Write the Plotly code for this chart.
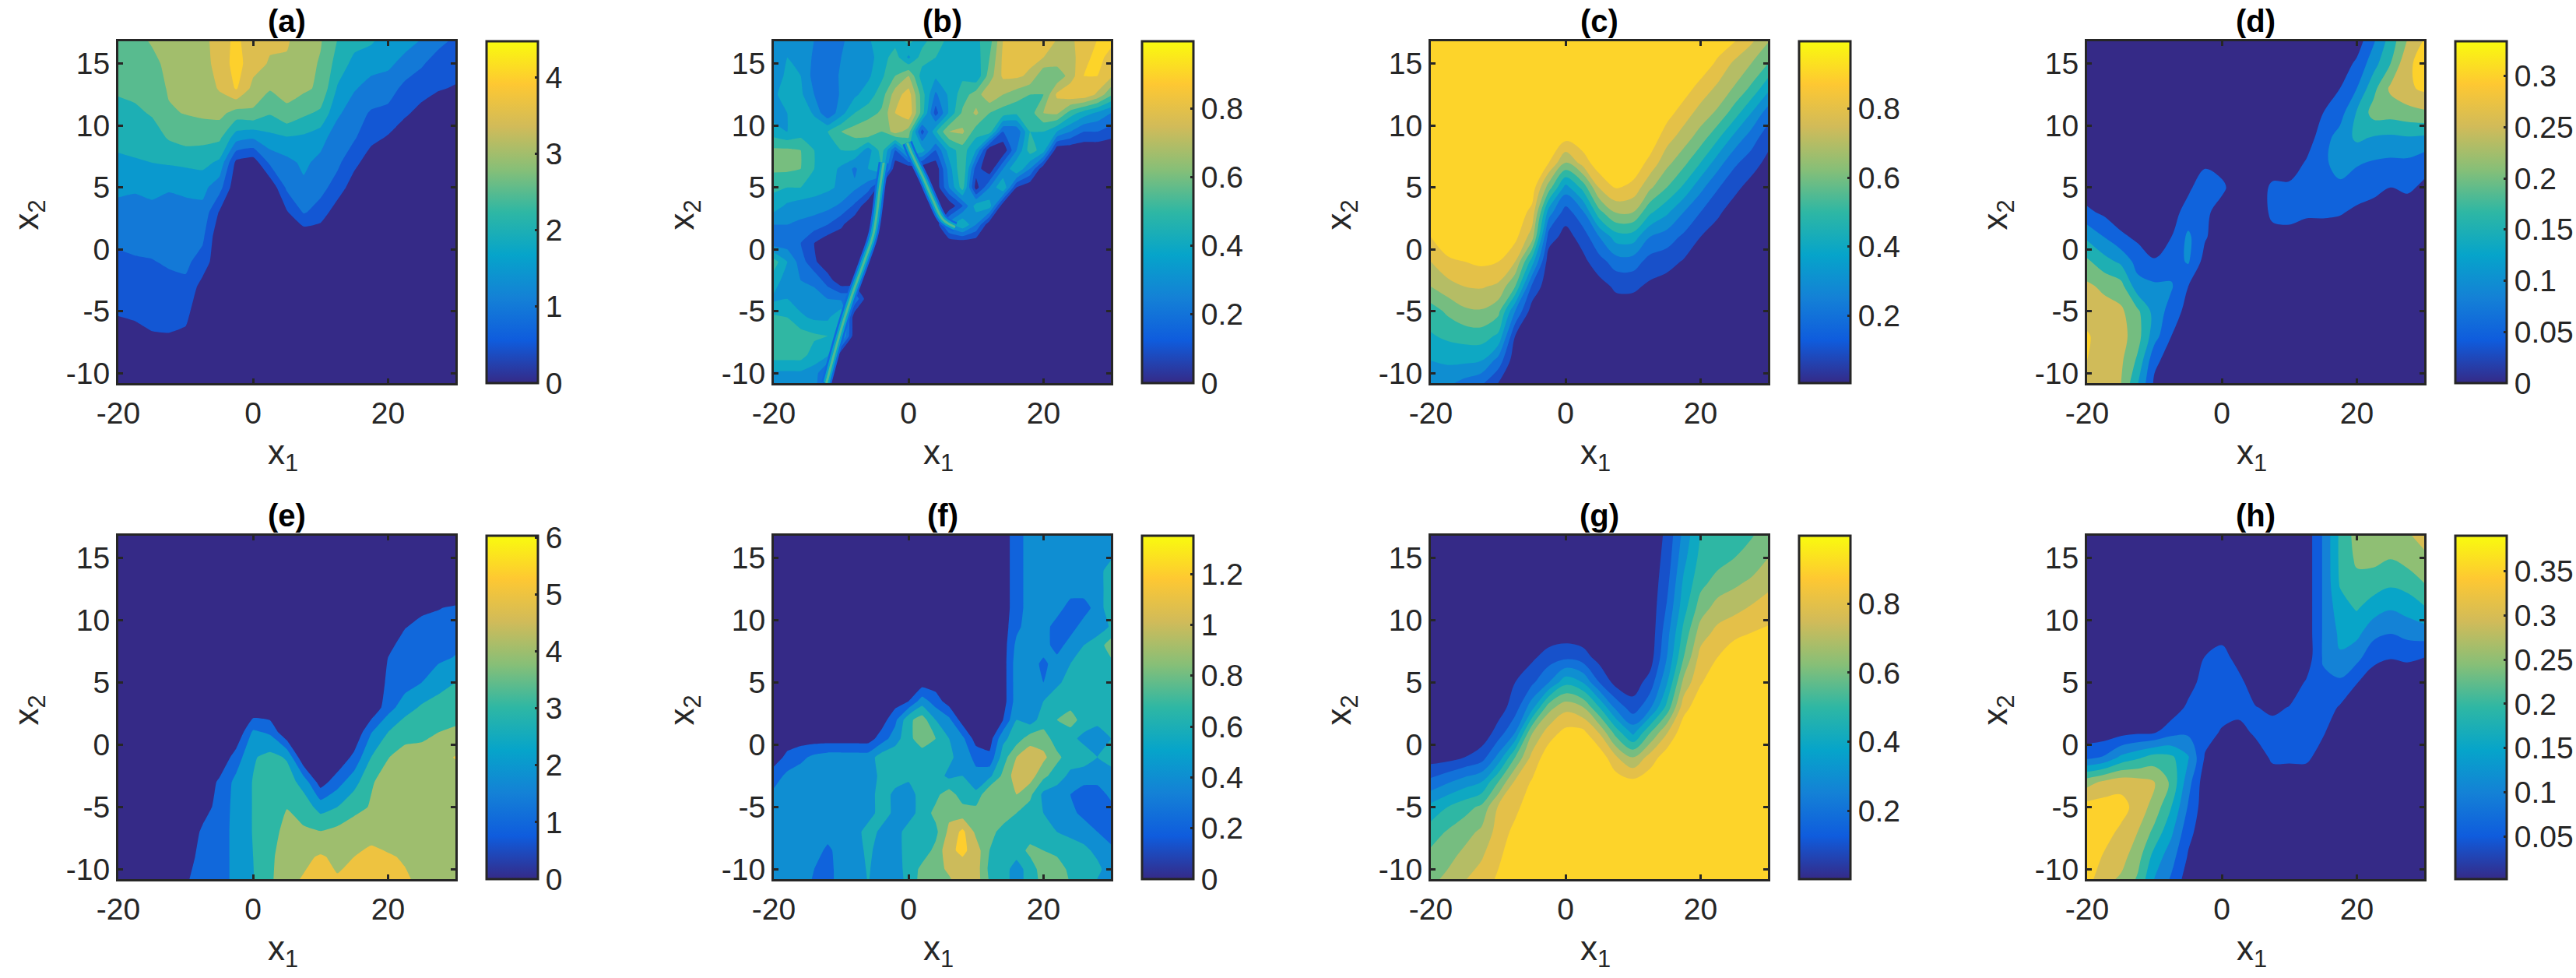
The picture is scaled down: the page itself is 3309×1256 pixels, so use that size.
# -*- coding: utf-8 -*-
import numpy as np
import plotly.graph_objects as go

W, H = 3309, 1256

# grid of the smooth panels: one list per x column, rows run from y=17 down to y=-11
x_coarse = [-20, -17.5, -15, -12.5, -10, -7.5, -5, -2.5, 0, 2.5, 5, 7.5, 10, 12.5, 15, 17.5, 20, 22.5, 25, 27.5, 30]
y_coarse = [17, 15, 13, 11, 9, 7, 5, 3, 1, -1, -3, -5, -7, -9, -11]

# grid of the two rough panels (b, f): one list per y row, columns run from x=-20 to x=30
x_fine = [-20, -18, -16, -14, -12, -10, -8, -6, -4, -2, 0, 2, 4, 6, 8, 10, 12, 14, 16, 18, 20, 22, 24, 26, 28, 30]
y_fine = [17, 15.5, 14, 12.5, 11, 9.5, 8, 6.5, 5, 3.5, 2, 0.5, -1, -2.5, -4, -5.5, -7, -8.5, -10, -11.5]

z_a = [
    [2.8, 2.8, 2.6, 2.3, 2.15, 1.9, 1.6, 1.35, 1.1, .9, .8, .55, .3, .2, .1],
    [2.9, 2.85, 2.65, 2.4, 2.2, 1.95, 1.55, 1.35, 1.15, .95, .8, .6, .35, .2, .1],
    [3.05, 2.9, 2.75, 2.55, 2.25, 2, 1.6, 1.4, 1.15, .98, .8, .7, .45, .2, .1],
    [3.2, 3.1, 3.05, 2.95, 2.55, 2.05, 1.55, 1.3, 1.15, 1.05, .88, .7, .47, .2, .1],
    [3.2, 3.2, 3.1, 3.02, 2.7, 2.1, 1.6, 1.35, 1.2, 1.1, .9, .65, .4, .2, .1],
    [3.3, 3.3, 3.2, 3.1, 2.65, 2.15, 1.65, 1.35, 1.1, .8, .3, .1, .1, .1, .1],
    [3.8, 3.7, 3.55, 3.15, 2.6, 1.9, 1.2, .45, .1, .1, .1, .1, .1, .1, .1],
    [4.1, 4.2, 4.05, 2.8, 1.7, .35, .1, .1, .1, .1, .1, .1, .1, .1, .1],
    [3.7, 3.7, 3.35, 2.9, 1.55, .2, .1, .1, .1, .1, .1, .1, .1, .1, .1],
    [3.6, 3.45, 3.05, 2.55, 1.85, 1.1, .1, .1, .1, .1, .1, .1, .1, .1, .1],
    [3.55, 3.45, 3.15, 2.9, 1.95, 1.35, 1.1, .45, .1, .1, .1, .1, .1, .1, .1],
    [3.3, 3.2, 3.1, 2.6, 1.9, 1.6, 1.4, 1.05, .1, .1, .1, .1, .1, .1, .1],
    [3.05, 2.95, 2.9, 2.4, 1.7, 1.35, 1.15, .8, .1, .1, .1, .1, .1, .1, .1],
    [2.5, 2.3, 1.95, 1.6, 1.2, 1.1, .8, .2, .1, .1, .1, .1, .1, .1, .1],
    [2.2, 1.85, 1.55, 1.2, 1.05, .65, .2, .1, .1, .1, .1, .1, .1, .1, .1],
    [2.1, 1.7, 1.3, .95, .65, .2, .1, .1, .1, .1, .1, .1, .1, .1, .1],
    [1.8, 1.6, 1.25, .85, .45, .1, .1, .1, .1, .1, .1, .1, .1, .1, .1],
    [1.7, 1.35, .85, .6, .1, .1, .1, .1, .1, .1, .1, .1, .1, .1, .1],
    [1.5, 1.05, .75, .3, .1, .1, .1, .1, .1, .1, .1, .1, .1, .1, .1],
    [1.15, .8, .55, .1, .1, .1, .1, .1, .1, .1, .1, .1, .1, .1, .1],
    [.95, .75, .45, .1, .1, .1, .1, .1, .1, .1, .1, .1, .1, .1, .1],
]

z_b = [
    [.36, .38, .35, .3, .28, .28, .35, .38, .5, .45, .55, .45, .55, .48, .5, .48, .55, .8, .82, .82, .83, .8, .78, .85, .9, .92],
    [.36, .4, .38, .28, .27, .3, .36, .36, .45, .55, .38, .55, .5, .5, .5, .45, .6, .82, .83, .83, .8, .78, .75, .88, .92, .88],
    [.35, .42, .4, .26, .22, .32, .36, .38, .48, .6, .7, .45, .42, .45, .48, .42, .65, .82, .82, .78, .62, .62, .75, .9, .9, .82],
    [.38, .45, .42, .3, .2, .32, .38, .45, .55, .75, .85, .55, .28, .42, .55, .65, .78, .7, .65, .6, .6, .82, .88, .88, .78, .62],
    [.35, .4, .5, .38, .22, .36, .5, .55, .62, .8, .88, .55, .15, .42, .62, .72, .6, .55, .52, .55, .7, .72, .55, .45, .38, .3],
    [.45, .4, .45, .5, .5, .6, .65, .7, .6, .75, .65, .15, .48, .7, .72, .55, .55, .2, .22, .5, .5, .4, .3, .2, .2, .15],
    [.62, .62, .6, .5, .45, .5, .5, .35, .55, .2, .5, .45, .2, .45, .55, .4, .02, .02, .3, .55, .45, .02, .02, .02, .02, .02],
    [.62, .62, .6, .5, .45, .38, .28, .4, .5, .02, .02, .02, .02, .35, .6, .15, .02, .3, .5, .3, .02, .02, .02, .02, .02, .02],
    [.52, .5, .5, .45, .42, .38, .32, .25, .02, .02, .02, .02, .02, .3, .55, .05, .3, .5, .1, .02, .02, .02, .02, .02, .02, .02],
    [.45, .38, .35, .35, .33, .28, .18, .02, .02, .02, .02, .02, .02, .02, .2, .45, .45, .02, .02, .02, .02, .02, .02, .02, .02, .02],
    [.3, .3, .28, .25, .2, .12, .02, .02, .02, .02, .02, .02, .02, .35, .5, .3, .02, .02, .02, .02, .02, .02, .02, .02, .02, .02],
    [.25, .25, .2, .1, .02, .02, .02, .02, .02, .02, .02, .02, .02, .02, .02, .02, .02, .02, .02, .02, .02, .02, .02, .02, .02, .02],
    [.55, .4, .25, .12, .02, .02, .02, .02, .02, .02, .02, .02, .02, .02, .02, .02, .02, .02, .02, .02, .02, .02, .02, .02, .02, .02],
    [.45, .35, .3, .27, .15, .02, .02, .02, .02, .02, .02, .02, .02, .02, .02, .02, .02, .02, .02, .02, .02, .02, .02, .02, .02, .02],
    [.38, .4, .35, .35, .3, .28, .28, .02, .02, .02, .02, .02, .02, .02, .02, .02, .02, .02, .02, .02, .02, .02, .02, .02, .02, .02],
    [.52, .5, .42, .38, .38, .5, .02, .02, .02, .02, .02, .02, .02, .02, .02, .02, .02, .02, .02, .02, .02, .02, .02, .02, .02, .02],
    [.55, .55, .55, .52, .5, .45, .02, .02, .02, .02, .02, .02, .02, .02, .02, .02, .02, .02, .02, .02, .02, .02, .02, .02, .02, .02],
    [.55, .55, .55, .45, .42, .02, .02, .02, .02, .02, .02, .02, .02, .02, .02, .02, .02, .02, .02, .02, .02, .02, .02, .02, .02, .02],
    [.38, .38, .38, .36, .15, .02, .02, .02, .02, .02, .02, .02, .02, .02, .02, .02, .02, .02, .02, .02, .02, .02, .02, .02, .02, .02],
    [.37, .37, .37, .35, .1, .02, .02, .02, .02, .02, .02, .02, .02, .02, .02, .02, .02, .02, .02, .02, .02, .02, .02, .02, .02, .02],
]

# thin crests of panel b, too narrow for its grid
b_crest_left_x = [-12.2, -10.3, -8.4, -6.6, -5.2, -4.2, -3.7]
b_crest_left_y = [-10.8, -7, -3.7, -1, 1.3, 5.2, 7]
b_crest_vee_x = [-0.2, 0.4, 2.2, 3.6, 5.1, 6.9]
b_crest_vee_y = [8.6, 7.8, 5.75, 4, 2.4, 1.8]

z_c = [
    [.97, .97, .97, .97, .97, .97, .97, .97, .9, .8, .7, .55, .49, .4, .3],
    [.97, .97, .97, .97, .97, .97, .97, .97, .97, .88, .76, .62, .52, .42, .3],
    [.97, .97, .97, .97, .97, .97, .97, .97, .97, .9, .8, .68, .54, .42, .25],
    [.97, .97, .97, .97, .97, .97, .97, .97, .97, .92, .81, .69, .55, .4, .2],
    [.97, .97, .97, .97, .97, .97, .97, .97, .97, .9, .78, .63, .48, .26, .08],
    [.97, .97, .97, .97, .97, .97, .97, .97, .93, .8, .6, .3, .1, .03, .03],
    [.97, .97, .97, .97, .97, .97, .96, .87, .75, .45, .18, .05, .03, .03, .03],
    [.97, .97, .97, .97, .97, .9, .65, .35, .15, .04, .03, .03, .03, .03, .03],
    [.97, .97, .97, .97, .93, .7, .36, .15, .06, .03, .03, .03, .03, .03, .03],
    [.97, .97, .97, .97, .97, .84, .53, .28, .14, .07, .03, .03, .03, .03, .03],
    [.97, .97, .97, .97, .97, .97, .81, .57, .3, .16, .06, .03, .03, .03, .03],
    [.97, .97, .97, .97, .97, .97, .91, .71, .45, .25, .12, .04, .03, .03, .03],
    [.97, .97, .97, .97, .97, .97, .87, .7, .45, .25, .12, .04, .03, .03, .03],
    [.97, .97, .97, .97, .97, .87, .72, .52, .3, .16, .08, .03, .03, .03, .03],
    [.97, .97, .97, .94, .84, .73, .6, .42, .25, .14, .05, .03, .03, .03, .03],
    [.97, .97, .95, .85, .75, .63, .48, .3, .18, .09, .03, .03, .03, .03, .03],
    [.97, .97, .86, .76, .65, .5, .33, .2, .1, .04, .03, .03, .03, .03, .03],
    [.97, .88, .78, .68, .52, .35, .21, .12, .05, .03, .03, .03, .03, .03, .03],
    [.92, .78, .69, .55, .37, .22, .13, .05, .03, .03, .03, .03, .03, .03, .03],
    [.83, .7, .58, .4, .25, .15, .06, .03, .03, .03, .03, .03, .03, .03, .03],
    [.72, .6, .43, .25, .14, .07, .03, .03, .03, .03, .03, .03, .03, .03, .03],
]

z_d = [
    [.02, .02, .02, .02, .02, .02, .02, .06, .14, .21, .26, .28, .305, .3, .27],
    [.02, .02, .02, .02, .02, .02, .02, .04, .1, .17, .24, .27, .28, .28, .27],
    [.02, .02, .02, .02, .02, .02, .02, .02, .06, .14, .22, .26, .27, .26, .25],
    [.02, .02, .02, .02, .02, .02, .02, .02, .04, .08, .12, .21, .22, .19, .15],
    [.02, .02, .02, .02, .02, .02, .02, .02, .02, .055, .11, .13, .12, .06, .04],
    [.02, .02, .02, .02, .02, .02, .02, .03, .05, .08, .105, .08, .05, .03, .02],
    [.02, .02, .02, .02, .02, .02, .04, .07, .11, .105, .05, .03, .02, .02, .02],
    [.02, .02, .02, .02, .02, .04, .08, .06, .055, .03, .02, .02, .02, .02, .02],
    [.02, .02, .02, .02, .02, .03, .06, .03, .02, .02, .02, .02, .02, .02, .02],
    [.02, .02, .02, .02, .02, .02, .02, .02, .02, .02, .02, .02, .02, .02, .02],
    [.02, .02, .02, .02, .02, .02, .02, .02, .02, .02, .02, .02, .02, .02, .02],
    [.02, .02, .02, .02, .02, .02, .06, .06, .035, .02, .02, .02, .02, .02, .02],
    [.02, .02, .02, .02, .02, .02, .06, .07, .03, .02, .02, .02, .02, .02, .02],
    [.02, .02, .02, .02, .02, .055, .07, .06, .02, .02, .02, .02, .02, .02, .02],
    [.02, .02, .02, .05, .08, .09, .09, .06, .02, .02, .02, .02, .02, .02, .02],
    [.02, .02, .05, .08, .12, .12, .09, .055, .02, .02, .02, .02, .02, .02, .02],
    [.02, .06, .1, .155, .16, .105, .075, .04, .02, .02, .02, .02, .02, .02, .02],
    [.09, .13, .185, .22, .145, .095, .065, .03, .02, .02, .02, .02, .02, .02, .02],
    [.17, .2, .26, .22, .14, .09, .05, .02, .02, .02, .02, .02, .02, .02, .02],
    [.25, .29, .29, .23, .145, .09, .06, .02, .02, .02, .02, .02, .02, .02, .02],
    [.3, .32, .31, .24, .14, .07, .04, .02, .02, .02, .02, .02, .02, .02, .02],
]

z_e = [
    [.1, .1, .1, .1, .1, .1, .1, .1, .1, .1, .1, .1, .1, .1, .1],
    [.1, .1, .1, .1, .1, .1, .1, .1, .1, .1, .1, .1, .1, .1, .1],
    [.1, .1, .1, .1, .1, .1, .1, .1, .1, .1, .1, .1, .1, .1, .1],
    [.1, .1, .1, .1, .1, .1, .1, .1, .1, .1, .1, .1, .1, .1, .1],
    [.1, .1, .1, .1, .1, .1, .1, .1, .1, .1, .1, .1, .1, .5, .9],
    [.1, .1, .1, .1, .1, .1, .1, .1, .1, .1, .1, .5, 1.2, 1.4, 1.45],
    [.1, .1, .1, .1, .1, .1, .1, .1, .1, .1, 1.2, 1.4, 1.5, 1.5, 1.5],
    [.1, .1, .1, .1, .1, .1, .1, .1, .1, 1.5, 2.3, 2.35, 2.35, 2.35, 2.35],
    [.1, .1, .1, .1, .1, .1, .1, .1, 2.2, 2.9, 3.05, 3.05, 3.05, 3, 2.95],
    [.1, .1, .1, .1, .1, .1, .1, .1, 1.85, 3.3, 3.5, 3.7, 3.75, 3.8, 3.8],
    [.1, .1, .1, .1, .1, .1, .1, .1, .1, 2.9, 3.5, 3.98, 4.2, 4.5, 4.8],
    [.1, .1, .1, .1, .1, .1, .1, .1, .1, .1, 2.6, 3.55, 4.15, 4.8, 5.1],
    [.1, .1, .1, .1, .1, .1, .1, .1, .1, .1, .5, 2.6, 4.05, 5.1, 5.2],
    [.1, .1, .1, .1, .1, .1, .1, .1, .1, .1, 1.6, 3, 4.3, 4.8, 5.1],
    [.1, .1, .1, .1, .1, .1, .1, .1, .1, 1.3, 2.6, 3.8, 4.35, 5, 5.3],
    [.1, .1, .1, .1, .1, .1, .1, .1, 1.95, 3, 3.95, 4.05, 4.7, 5.25, 5.4],
    [.1, .1, .1, .1, .1, 1, 1.2, 1.6, 3, 3.98, 4.2, 4.25, 4.5, 5.1, 5.3],
    [.1, .1, .1, .1, 1.15, 1.35, 1.6, 2.5, 3.8, 4.2, 4.3, 4.4, 4.5, 4.9, 5.15],
    [.1, .1, .1, .9, 1.2, 1.5, 2, 3.15, 3.8, 4.3, 4.4, 4.4, 4.4, 4.5, 4.8],
    [.1, .1, .1, .97, 1.3, 1.8, 2.6, 3.45, 4, 4.7, 4.4, 4.4, 4.4, 4.4, 4.4],
    [.1, .1, .1, 1.1, 1.6, 2.05, 3, 3.55, 4.15, 5.05, 4.5, 4.4, 4.4, 4.4, 4.4],
]

z_f = [
    [.1, .1, .1, .1, .1, .1, .1, .1, .1, .1, .1, .1, .1, .1, .1, .1, .1, .1, .3, .5, .5, .5, .5, .5, .5, .5],
    [.1, .1, .1, .1, .1, .1, .1, .1, .1, .1, .1, .1, .1, .1, .1, .1, .1, .1, .3, .5, .5, .5, .5, .5, .5, .5],
    [.1, .1, .1, .1, .1, .1, .1, .1, .1, .1, .1, .1, .1, .1, .1, .1, .1, .1, .3, .5, .5, .5, .5, .5, .5, .72],
    [.1, .1, .1, .1, .1, .1, .1, .1, .1, .1, .1, .1, .1, .1, .1, .1, .1, .1, .3, .5, .5, .5, .5, .5, .5, .72],
    [.1, .1, .1, .1, .1, .1, .1, .1, .1, .1, .1, .1, .1, .1, .1, .1, .1, .1, .3, .5, .5, .5, .3, .3, .5, .72],
    [.1, .1, .1, .1, .1, .1, .1, .1, .1, .1, .1, .1, .1, .1, .1, .1, .1, .1, .35, .5, .5, .3, .3, .5, .5, .62],
    [.1, .1, .1, .1, .1, .1, .1, .1, .1, .1, .1, .1, .1, .1, .1, .1, .1, .1, .45, .5, .5, .3, .5, .6, .7, .9],
    [.1, .1, .1, .1, .1, .1, .1, .1, .1, .1, .1, .1, .1, .1, .1, .1, .1, .1, .5, .5, .35, .5, .6, .7, .75, .75],
    [.1, .1, .1, .1, .1, .1, .1, .1, .1, .1, .1, .1, .1, .1, .1, .1, .1, .1, .5, .5, .4, .55, .7, .75, .75, .8],
    [.1, .1, .1, .1, .1, .1, .1, .1, .1, .1, .2, .5, .3, .1, .1, .1, .1, .1, .5, .5, .6, .75, .7, .75, .75, .75],
    [.1, .1, .1, .1, .1, .1, .1, .1, .1, .35, .75, .9, .6, .45, .1, .1, .1, .2, .6, .5, .7, .8, .9, .7, .65, .7],
    [.1, .1, .1, .1, .1, .1, .1, .1, .3, .5, .75, .9, .8, .6, .45, .1, .1, .55, .7, .9, .9, .7, .65, .55, .5, .6],
    [.1, .25, .35, .45, .5, .5, .5, .5, .7, .75, .7, .7, .7, .65, .5, .35, .25, .7, 1.0, 1.15, 1.05, .85, .7, .7, .6, .65],
    [.3, .45, .5, .5, .5, .5, .5, .5, .65, .7, .65, .7, .7, .55, .6, .45, .55, .85, 1.1, 1.1, .85, .7, .55, .5, .5, .55],
    [.45, .5, .5, .5, .5, .5, .5, .5, .7, .55, .5, .7, .75, .9, .7, .65, 1.0, .95, 1.0, .85, .55, .5, .4, .3, .3, .45],
    [.5, .5, .5, .5, .5, .5, .5, .5, .7, .55, .5, .7, .85, .95, .9, .9, .9, .95, .8, .7, .6, .5, .45, .35, .3, .3],
    [.5, .5, .5, .5, .5, .5, .5, .7, .55, .5, .7, .6, .75, 1.05, 1.25, .95, .9, .7, .8, .7, .7, .6, .55, .5, .4, .3],
    [.5, .5, .5, .5, .35, .5, .5, .65, .5, .5, .7, .7, .85, 1.15, 1.25, 1.1, .8, .7, .7, .85, .8, .75, .7, .65, .55, .45],
    [.5, .5, .5, .4, .32, .5, .5, .62, .5, .5, .68, .85, .9, 1.05, 1.1, 1.1, .75, .7, .5, .7, .9, .9, .75, .7, .65, .5],
    [.5, .5, .5, .35, .32, .5, .5, .6, .5, .5, .65, .9, .9, .9, 1.1, 1.1, .8, .7, .5, .7, .85, .9, .8, .7, .55, .5],
]

z_g = [
    [.03, .03, .03, .03, .03, .03, .03, .03, .03, .05, .23, .43, .55, .63, .68],
    [.03, .03, .03, .03, .03, .03, .03, .03, .03, .06, .29, .5, .61, .67, .73],
    [.03, .03, .03, .03, .03, .03, .03, .03, .03, .1, .35, .56, .66, .73, .8],
    [.03, .03, .03, .03, .03, .03, .03, .03, .03, .15, .4, .62, .72, .79, .85],
    [.03, .03, .03, .03, .03, .03, .03, .05, .14, .33, .6, .81, .84, .88, .92],
    [.03, .03, .03, .03, .03, .03, .1, .15, .3, .6, .82, .87, .93, .97, .97],
    [.03, .03, .03, .03, .03, .08, .18, .36, .69, .83, .91, .97, .97, .97, .97],
    [.03, .03, .03, .03, .03, .15, .3, .66, .85, .96, .97, .97, .97, .97, .97],
    [.03, .03, .03, .03, .04, .18, .47, .77, .93, .97, .97, .97, .97, .97, .97],
    [.03, .03, .03, .03, .03, .15, .4, .71, .93, .97, .97, .97, .97, .97, .97],
    [.03, .03, .03, .03, .03, .06, .2, .5, .79, .97, .97, .97, .97, .97, .97],
    [.03, .03, .03, .03, .03, .03, .06, .27, .55, .81, .96, .97, .97, .97, .97],
    [.03, .03, .03, .03, .03, .03, .05, .14, .37, .7, .93, .97, .97, .97, .97],
    [.03, .03, .03, .03, .03, .05, .14, .28, .59, .84, .97, .97, .97, .97, .97],
    [.12, .14, .17, .21, .26, .3, .39, .53, .79, .96, .97, .97, .97, .97, .97],
    [.33, .37, .42, .46, .53, .6, .73, .86, .97, .97, .97, .97, .97, .97, .97],
    [.5, .53, .57, .65, .75, .84, .89, .97, .97, .97, .97, .97, .97, .97, .97],
    [.53, .56, .64, .74, .83, .9, .97, .97, .97, .97, .97, .97, .97, .97, .97],
    [.57, .6, .68, .77, .87, .97, .97, .97, .97, .97, .97, .97, .97, .97, .97],
    [.59, .63, .72, .81, .9, .97, .97, .97, .97, .97, .97, .97, .97, .97, .97],
    [.63, .7, .77, .85, .92, .97, .97, .97, .97, .97, .97, .97, .97, .97, .97],
]

z_h = [
    [.02, .02, .02, .02, .02, .02, .02, .02, .02, .085, .28, .37, .38, .38, .37],
    [.02, .02, .02, .02, .02, .02, .02, .02, .02, .105, .31, .375, .37, .345, .31],
    [.02, .02, .02, .02, .02, .02, .02, .02, .03, .16, .33, .37, .34, .32, .29],
    [.02, .02, .02, .02, .02, .02, .02, .02, .04, .19, .32, .33, .3, .27, .24],
    [.02, .02, .02, .02, .02, .02, .02, .02, .045, .22, .3, .28, .235, .18, .145],
    [.02, .02, .02, .02, .02, .02, .02, .02, .08, .21, .24, .2, .16, .12, .09],
    [.02, .02, .02, .02, .02, .02, .03, .06, .09, .155, .12, .095, .065, .045, .02],
    [.02, .02, .02, .02, .02, .052, .07, .08, .07, .045, .02, .02, .02, .02, .02],
    [.02, .02, .02, .02, .03, .07, .08, .07, .045, .02, .02, .02, .02, .02, .02],
    [.02, .02, .02, .02, .02, .03, .065, .07, .03, .02, .02, .02, .02, .02, .02],
    [.02, .02, .02, .02, .02, .02, .02, .052, .06, .02, .02, .02, .02, .02, .02],
    [.02, .02, .02, .02, .02, .02, .02, .04, .07, .06, .02, .02, .02, .02, .02],
    [.02, .02, .02, .02, .02, .02, .02, .052, .075, .06, .02, .02, .02, .02, .02],
    [.02, .02, .02, .02, .02, .02, .055, .075, .08, .06, .02, .02, .02, .02, .02],
    [.105, .105, .105, .105, .105, .105, .09, .075, .055, .03, .02, .02, .02, .02, .02],
    [.21, .21, .205, .18, .16, .145, .09, .045, .02, .02, .02, .02, .02, .02, .02],
    [.27, .26, .235, .205, .165, .115, .052, .02, .02, .02, .02, .02, .02, .02, .02],
    [.28, .265, .225, .175, .115, .065, .02, .02, .02, .02, .02, .02, .02, .02, .02],
    [.29, .252, .21, .155, .102, .052, .02, .02, .02, .02, .02, .02, .02, .02, .02],
    [.295, .27, .22, .17, .117, .057, .02, .02, .02, .02, .02, .02, .02, .02, .02],
    [.33, .285, .25, .195, .125, .05, .02, .02, .02, .02, .02, .02, .02, .02, .02],
]

titles = ["(a)", "(b)", "(c)", "(d)", "(e)", "(f)", "(g)", "(h)"]
x_ticks = [-20, 0, 20]
y_ticks = [-10, -5, 0, 5, 10, 15]

# colour limits and contour spacing of each panel
z_min = [0, 0, 0.005, 0, 0, 0, 0.003, 0.002]
z_max = [4.47, 0.995, 0.995, 0.334, 6.03, 1.35, 0.996, 0.39]
level_step = [0.5, 0.1, 0.1, 0.05, 1, 0.2, 0.1, 0.05]
level_top = [4, 0.9, 0.9, 0.3, 5, 1.2, 0.9, 0.35]
line_smooth = [0.4, 0.3, 1, 1, 0.4, 0.3, 1, 1]

bar_ticks = [
    [0, 1, 2, 3, 4],
    [0, 0.2, 0.4, 0.6, 0.8],
    [0.2, 0.4, 0.6, 0.8],
    [0, 0.05, 0.1, 0.15, 0.2, 0.25, 0.3],
    [0, 1, 2, 3, 4, 5, 6],
    [0, 0.2, 0.4, 0.6, 0.8, 1, 1.2],
    [0.2, 0.4, 0.6, 0.8],
    [0.05, 0.1, 0.15, 0.2, 0.25, 0.3, 0.35],
]

# parula
PARULA = ["#352a87", "#0f5cdd", "#1481d6", "#06a4ca", "#2eb7a4", "#87bf77", "#d1bb59", "#fec832", "#f9fb0e"]
parula_scale = [[i / 8, c] for i, c in enumerate(PARULA)]


def parula_at(frac):
    frac = min(max(frac, 0), 1) * 8
    i = min(int(frac), 7)
    t = frac - i
    c0 = [int(PARULA[i][k:k + 2], 16) for k in (1, 3, 5)]
    c1 = [int(PARULA[i + 1][k:k + 2], 16) for k in (1, 3, 5)]
    return "rgb(%d,%d,%d)" % tuple(round(a + (b - a) * t) for a, b in zip(c0, c1))


INK = "#262626"
FONT = "Liberation Sans"

# pixel positions of the frames
col_left = [152, 994, 1838, 2681]
row_top = [53, 688]
row_bottom = [492, 1129]
PANEL_W = 433
BAR_GAP = 40
BAR_W = 66

panels = [z_a, z_b, z_c, z_d, z_e, z_f, z_g, z_h]

fig = go.Figure()
annotations = []

for n, z in enumerate(panels):
    row, col = n // 4, n % 4
    left, right = col_left[col], col_left[col] + PANEL_W
    top, bottom = row_top[row], row_bottom[row]
    ax = "" if n == 0 else str(n + 1)

    if n in (1, 5):
        xs, ys, zz = x_fine, y_fine, np.array(z)
    else:
        xs, ys, zz = x_coarse, y_coarse, np.array(z).T

    # colour of a band is the colour of its lower level (contourf behaviour)
    step = level_step[n]
    lower = [z_min[n]] + list(np.arange(step, level_top[n] + step / 2, step))
    cols = [parula_at((v - z_min[n]) / (z_max[n] - z_min[n])) for v in lower]
    scale = [[i / (len(cols) - 1), c] for i, c in enumerate(cols)]

    fig.add_trace(go.Contour(
        x=xs, y=ys[::-1], z=zz[::-1].tolist(),
        xaxis="x" + ax, yaxis="y" + ax,
        colorscale=scale, showscale=False,
        autocontour=False,
        contours=dict(start=step, end=level_top[n], size=step, coloring="fill", showlines=False),
        line=dict(width=0, smoothing=line_smooth[n]),
        hoverinfo="skip",
    ))

    if n == 1:
        for cx, cy in ((b_crest_left_x, b_crest_left_y), (b_crest_vee_x, b_crest_vee_y)):
            for width, colour in ((13, "#0f6adf"), (8, "#07a5c8"), (3, "#4fbb92")):
                fig.add_trace(go.Scatter(x=cx, y=cy, mode="lines", xaxis="x2", yaxis="y2", showlegend=False,
                                         hoverinfo="skip", line=dict(width=width, color=colour, shape="spline")))

    # colorbar carried by an off-range marker
    fig.add_trace(go.Scatter(
        x=[-1000], y=[-1000], mode="markers", xaxis="x" + ax, yaxis="y" + ax,
        showlegend=False, hoverinfo="skip",
        marker=dict(
            size=1, color=[z_min[n]], cmin=z_min[n], cmax=z_max[n], colorscale=parula_scale, showscale=True,
            colorbar=dict(
                x=(right + BAR_GAP) / W, xanchor="left", xpad=0, ypad=0,
                y=1 - (top + bottom) / 2 / H, yanchor="middle", len=(bottom - top) / H, lenmode="fraction",
                thickness=BAR_W, thicknessmode="pixels",
                outlinewidth=3, outlinecolor=INK, bordercolor="rgba(0,0,0,0)",
                ticks="inside", ticklen=5, tickwidth=3, tickcolor=INK,
                tickvals=bar_ticks[n], ticktext=[str(v) for v in bar_ticks[n]],
                tickfont=dict(family=FONT, size=39, color=INK),
            ),
        ),
    ))

    axis = dict(showgrid=False, zeroline=False, showline=True, linewidth=3, linecolor=INK, mirror="ticks",
                ticks="inside", ticklen=6, tickwidth=3, tickcolor=INK,
                tickfont=dict(family=FONT, size=39, color=INK))
    fig.update_layout({
        "xaxis" + ax: dict(axis, domain=[left / W, right / W], range=[-20, 30], tickvals=x_ticks,
                           ticktext=[str(v) for v in x_ticks], anchor="y" + ax, ticklabelstandoff=2),
        "yaxis" + ax: dict(axis, domain=[1 - bottom / H, 1 - top / H], range=[-10.8, 16.8], tickvals=y_ticks,
                           ticktext=[str(v) for v in y_ticks], anchor="x" + ax),
    })

    mid = (left + right) / 2
    annotations.append(dict(text="<b>%s</b>" % titles[n], x=mid / W, y=1 - (top - 26) / H,
                            font=dict(family=FONT, size=40, color="black")))
    annotations.append(dict(text="x<sub>1</sub>", x=(mid - 5) / W, y=1 - (bottom + 92) / H,
                            font=dict(family=FONT, size=44, color=INK)))
    annotations.append(dict(text="x<sub>2</sub>", x=(left - 116) / W, y=1 - ((top + bottom) / 2 + 4) / H, textangle=-90,
                            font=dict(family=FONT, size=44, color=INK)))

for a in annotations:
    a.update(xref="paper", yref="paper", xanchor="center", yanchor="middle", showarrow=False)

fig.update_layout(width=W, height=H, margin=dict(l=0, r=0, t=0, b=0, autoexpand=False),
                  paper_bgcolor="white", plot_bgcolor="white", showlegend=False, annotations=annotations)

fig.write_html("out.html", config={"displayModeBar": False}, post_script="document.body.style.margin='0';")
